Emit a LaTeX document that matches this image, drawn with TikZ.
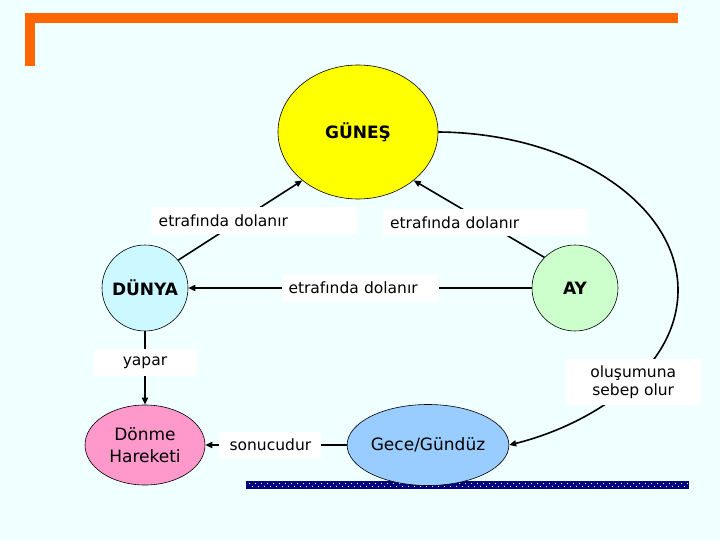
\documentclass[tikz,border=0pt]{standalone}
\usepackage{fontspec}
\setmainfont{DejaVu Sans}
\usetikzlibrary{shapes.geometric, arrows.meta}
\definecolor{bgcyan}{HTML}{F0FFFF}
\definecolor{framebar}{HTML}{FF6600}
\definecolor{sunyellow}{HTML}{FFFF00}
\definecolor{earthblue}{HTML}{CCF8FF}
\definecolor{moongreen}{HTML}{CCFFCC}
\definecolor{spinpink}{HTML}{FF99CC}
\definecolor{daynight}{HTML}{99CCFF}
\definecolor{navybar}{HTML}{000080}
\begin{document}
\begin{tikzpicture}[
	x=1pt, y=-1pt,
	planet/.style={circle, draw, line width=0.6pt, minimum size=86pt, inner sep=0pt, font=\fontsize{17}{20}\selectfont\bfseries},
	oval/.style={ellipse, draw, line width=0.6pt, inner sep=0pt, align=center, font=\fontsize{17}{22}\selectfont},
	lbl/.style={fill=white, inner sep=0pt, minimum height=27pt, font=\fontsize{15.5}{18}\selectfont},
	widelbl/.style={lbl, inner xsep=7pt, align=left},
	arrow/.style={-{Triangle[length=7pt, width=6pt]}, line width=1.6pt}
]
	% Background and frame
	\fill[bgcyan] (0,0) rectangle (720,540);
	\fill[framebar] (25,13) rectangle (678,23);
	\fill[framebar] (25,13) rectangle (35,66);

	% Dotted bar
	\fill[navybar] (246,481) rectangle (689,489);
	\draw[white, line width=0.8pt, dash pattern=on 0.8pt off 5.2pt] (249,483.5) -- (689,483.5);
	\draw[white, line width=0.8pt, dash pattern=on 0.8pt off 5.2pt, dash phase=3pt] (249,486.5) -- (689,486.5);

	% Bodies
	\node[oval, fill=sunyellow, minimum width=160pt, minimum height=134pt, font=\fontsize{17}{20}\selectfont\bfseries] (gunes) at (358,132) {GÜNEŞ};
	\node[planet, fill=earthblue] (dunya) at (145,288) {DÜNYA};
	\node[planet, fill=moongreen] (ay) at (575,288) {AY};

	% Results
	\node[oval, fill=spinpink, minimum width=120pt, minimum height=80pt] (donme) at (145,445) {Dönme\\Hareketi};
	\node[oval, fill=daynight, minimum width=126pt, minimum height=81pt] (gece) at (428,445) {Gece/Gündüz};

	% Arrows
	\draw[arrow] (dunya.40) -- node[widelbl, text width=191pt, pos=0.5, xshift=14pt]{etrafında dolanır} (gunes.221);
	\draw[arrow] (ay.135) -- node[widelbl, text width=191pt, pos=0.45]{etrafında dolanır} (gunes.319);
	\draw[arrow] (ay.west) -- node[widelbl, text width=143pt, pos=0.5]{etrafında dolanır} (dunya.east);
	\draw[arrow] (dunya.south) -- node[lbl, minimum width=103pt, pos=0.43]{yapar} (donme.north);
	\draw[arrow] (gece.west) -- node[lbl, minimum width=102pt, pos=0.54]{sonucudur} (donme.east);
	\draw[arrow] (gunes.east) .. controls (570,133) and (678,203) .. (678,290)
		.. controls (678,370) and (590,425) .. (gece.east)
		node[lbl, align=center, minimum width=135pt, minimum height=46pt, pos=0.45]{oluşumuna\\sebep olur};
\end{tikzpicture}
\end{document}
